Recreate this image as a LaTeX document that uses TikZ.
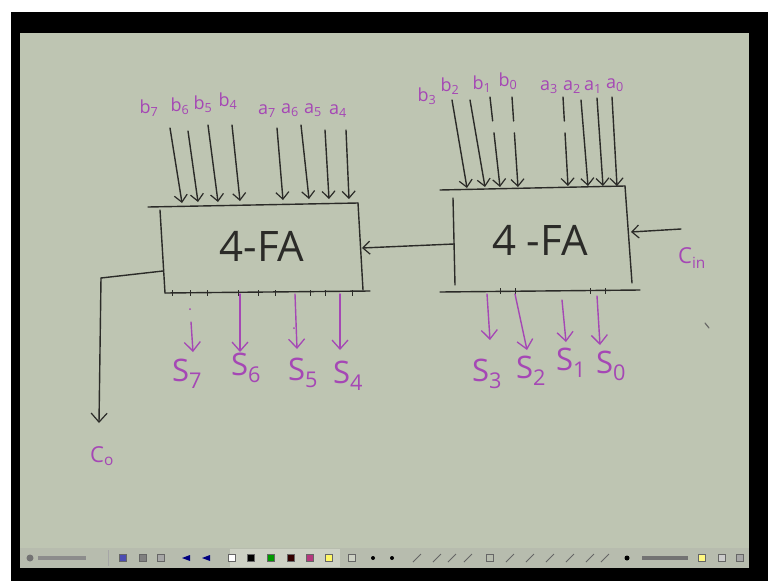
\documentclass[tikz,border=0pt]{standalone}
\usepackage{fontspec}
\setmainfont{Open Sans}
\usetikzlibrary{arrows.meta}
\definecolor{board}{HTML}{BEC5B2}
\definecolor{ink}{HTML}{2B2B28}
\definecolor{marker}{HTML}{A547B5}
\definecolor{bar}{HTML}{B7BCAE}
\definecolor{barhi}{HTML}{CDD1C4}
\begin{document}
\begin{tikzpicture}[x=1pt,y=-1pt,
  wire/.style={ink, line width=1.4pt, line cap=round, line join=round},
  inarrow/.style={wire, -{Straight Barb[length=7pt,width=13pt,line width=1.2pt]}},
  outarrow/.style={marker, line width=1.4pt, line cap=round, -{Straight Barb[length=9pt,width=16pt,line width=1.3pt]}},
  lbl/.style={marker, font=\fontsize{18}{18}\selectfont, inner sep=0pt},
  slbl/.style={marker, font=\fontsize{31}{31}\selectfont, inner sep=0pt},
  fatext/.style={ink, font=\fontsize{42}{42}\selectfont, inner sep=0pt},
  tick/.style={ink, line width=1pt},
  icon/.style={draw=black!60, line width=0.4pt, minimum size=7pt, inner sep=0pt}]

\useasboundingbox (0,0) rectangle (768,581);
% frame, board and tool bar
\fill[white] (0,0) rectangle (768,581);
\fill[black] (11,12) rectangle (768,581);
\fill[board] (20,33) rectangle (749,548);
\fill[bar] (20,548) rectangle (749,568);
\fill[barhi] (230,549) rectangle (340,567);

% ---------- left adder (bits 7..4) ----------
\node[fatext] (fa1) at (262,246) {4-FA};
\draw[wire] (148,207) -- (358,203);
\draw[wire] (358,203) -- (363,290);
\draw[wire] (160,210) -- (165,293);
\draw[wire] (165,293) -- (370,291);
\foreach \x in {172,190,207,238,258,275,310,325,352}
  \draw[tick] (\x,290) -- (\x,296);
\coordinate (fa1w) at (163,271);
\coordinate (fa1e) at (362,248);

% ---------- right adder (bits 3..0) ----------
\node[fatext] (fa0) at (540,240) {4 -FA};
\draw[wire] (440,190) -- (625,186);
\draw[wire] (625,186) -- (632,283);
\draw[wire] (453,198) -- (455,285);
\draw[wire] (440,292) -- (640,290);
\foreach \x in {500,515,590,605}
  \draw[tick] (\x,288) -- (\x,294);
\coordinate (fa0w) at (454,244);
\coordinate (fa0e) at (631,232);

% ---------- input labels ----------
\node[lbl] (lb7) at (149,108) {b\textsubscript{7}};
\node[lbl] (lb6) at (180,106) {b\textsubscript{6}};
\node[lbl] (lb5) at (203,104) {b\textsubscript{5}};
\node[lbl] (lb4) at (228,101) {b\textsubscript{4}};
\node[lbl] (la7) at (267,111) {a\textsubscript{7}};
\node[lbl] (la6) at (290,110) {a\textsubscript{6}};
\node[lbl] (la5) at (313,110) {a\textsubscript{5}};
\node[lbl] (la4) at (338,111) {a\textsubscript{4}};

\node[lbl] (lb3) at (427,96) {b\textsubscript{3}};
\node[lbl] (lb2) at (450,86) {b\textsubscript{2}};
\node[lbl] (lb1) at (482,84) {b\textsubscript{1}};
\node[lbl] (lb0) at (508,81) {b\textsubscript{0}};
\node[lbl] (la3) at (549,87) {a\textsubscript{3}};
\node[lbl] (la2) at (572,87) {a\textsubscript{2}};
\node[lbl] (la1) at (593,87) {a\textsubscript{1}};
\node[lbl] (la0) at (615,85) {a\textsubscript{0}};

% ---------- input wires of the left adder ----------
\foreach \n/\xa/\ya/\xb/\yb in {
   b7/170/128/182/203, b6/188/131/198/202, b5/208/125/218/202, b4/232/125/240/201,
   a7/277/128/283/200, a6/301/125/309/199, a5/325/130/329/199, a4/346/130/349/199} {
  \coordinate (s\n) at (\xa,\ya);
  \coordinate (e\n) at (\xb,\yb);
  \draw[inarrow] (s\n) -- (e\n);
}

% ---------- input wires of the right adder ----------
\foreach \n/\xa/\ya/\xb/\yb in {
   b3/452/100/467/188, b2/470/100/485/187,
   a2/581/100/588/186, a1/597/98/603/186, a0/612/97/617/186} {
  \coordinate (s\n) at (\xa,\ya);
  \coordinate (e\n) at (\xb,\yb);
  \draw[inarrow] (s\n) -- (e\n);
}
\foreach \n/\xa/\ya/\xb/\yb in {b1/490/97/500/187, b0/512/97/518/187, a3/563/97/568/186} {
  \coordinate (s\n) at (\xa,\ya);
  \coordinate (e\n) at (\xb,\yb);
  \draw[inarrow, dash pattern=on 24pt off 12pt on 200pt] (s\n) -- (e\n);
}

% ---------- carry chain ----------
\draw[inarrow] (fa0w) -- (fa1e);
\coordinate (cinsrc) at (681,229);
\draw[inarrow] (cinsrc) -- (fa0e);
\node[lbl, font=\fontsize{22}{22}\selectfont] (cin) at (692,258) {C\textsubscript{in}};

\coordinate (cobend) at (101,278);
\coordinate (cotip) at (99,423);
\draw[wire] (fa1w) -- (cobend);
\draw[inarrow, -{Straight Barb[length=9pt,width=16pt,line width=1.2pt]}] (cobend) -- (cotip);
\node[lbl, font=\fontsize{22}{22}\selectfont] (cout) at (102,456) {C\textsubscript{o}};

% ---------- sum outputs ----------
\node[slbl] (s7) at (187,374) {S\textsubscript{7}};
\node[slbl] (s6) at (246,368) {S\textsubscript{6}};
\node[slbl] (s5) at (303,373) {S\textsubscript{5}};
\node[slbl] (s4) at (348,376) {S\textsubscript{4}};
\node[slbl] (s3) at (487,374) {S\textsubscript{3}};
\node[slbl] (s2) at (531,371) {S\textsubscript{2}};
\node[slbl] (s1) at (571,363) {S\textsubscript{1}};
\node[slbl] (s0) at (611,366) {S\textsubscript{0}};

\foreach \n/\xa/\ya/\xb/\yb in {
   7/191/322/193/352, 6/240/294/240/352, 5/295/294/297/349, 4/340/294/340/350,
   3/487/294/490/340, 2/515/294/527/350, 1/562/300/566/342, 0/597/296/600/345} {
  \coordinate (o\n) at (\xa,\ya);
  \coordinate (p\n) at (\xb,\yb);
  \draw[outarrow] (o\n) -- (p\n);
}
\fill[marker] (190,309) circle (1pt);
\fill[marker] (294,328) circle (1pt);

% stray pen mark
\draw[ink!70, line width=1.2pt, line cap=round] (705,323) -- (709,328);

% ---------- tool bar ----------
\fill[black!55] (30,558) circle (3.5pt);
\fill[black!45] (38,556) rectangle (86,560);
\draw[black!35] (108,550) -- (108,566);
\foreach \x/\c in {123/blue!40!gray, 143/gray, 161/gray!70} \node[icon, fill=\c] at (\x,558) {};
\foreach \x in {187,207} \fill[blue!50!black] (\x-5,558) -- (\x+3,555) -- (\x+3,561) -- cycle;
\foreach \x/\c in {232/white, 251/black, 271/green!60!black, 291/black!80!red, 310/magenta!70!black, 329/yellow!60!white}
  \node[icon, fill=\c] at (\x,558) {};
\node[icon, fill=barhi] at (352,558) {};
\fill[black] (373,558) circle (2pt);
\fill[black] (392,558) circle (2pt);
\foreach \x in {417,437,452,468,510,530,550,570,590,605}
  \draw[black!60, line width=0.8pt] (\x-4,562) -- (\x+4,554);
\node[icon] at (490,558) {};
\fill[black] (627,558) circle (2.5pt);
\fill[black!55] (642,556) rectangle (688,560);
\node[icon, fill=yellow!50!white] at (702,558) {};
\node[icon, fill=gray!40] at (722,558) {};
\node[icon, fill=gray!70] at (740,558) {};
\end{tikzpicture}
\end{document}
